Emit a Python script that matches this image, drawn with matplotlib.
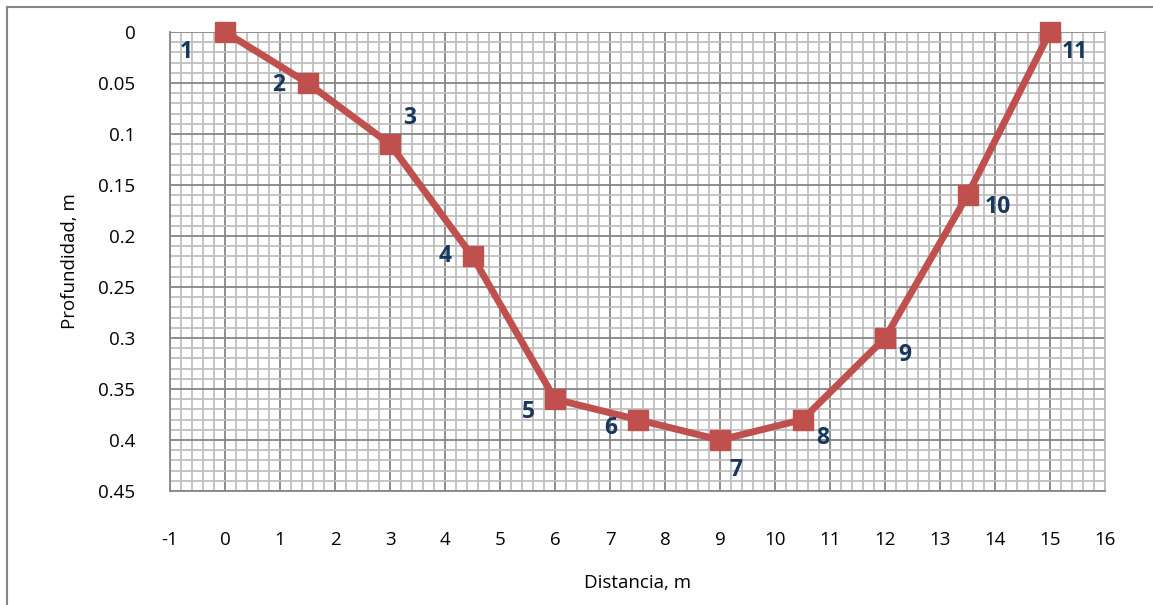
import matplotlib.pyplot as plt
from matplotlib.ticker import MultipleLocator
from matplotlib.lines import Line2D

distancia = [0, 1.5, 3, 4.5, 6, 7.5, 9, 10.5, 12, 13.5, 15]
profundidad = [0, 0.05, 0.11, 0.22, 0.36, 0.38, 0.40, 0.38, 0.30, 0.16, 0]
etiquetas = ['1', '2', '3', '4', '5', '6', '7', '8', '9', '10', '11']
# label offsets in pixels (dx, dy)
offsets = [(-39, -20), (-29, -2), (20, 26), (-27, 0), (-27, -13), (-27, -8),
           (16, -30), (20, -18), (20, -17), (30, -12), (25, -20)]

plt.rcParams['font.family'] = ['Open Sans', 'DejaVu Sans']
plt.rcParams['axes.unicode_minus'] = False

fig = plt.figure(figsize=(11.53, 6.05), dpi=100)
ax = fig.add_axes([170 / 1153, 1 - 491 / 605, 935 / 1153, 459 / 605])

ax.set_xlim(-1, 16)
ax.set_ylim(0.45, 0)
ax.xaxis.set_major_locator(MultipleLocator(1))
ax.xaxis.set_minor_locator(MultipleLocator(0.2))
ax.yaxis.set_major_locator(MultipleLocator(0.05))
ax.yaxis.set_minor_locator(MultipleLocator(0.01))

ax.grid(which='minor', color='#bfbfbf', linewidth=1.3)
ax.grid(which='major', color='#868686', linewidth=1.3)
ax.set_axisbelow(True)
for s in ax.spines.values():
    s.set_color('#868686')
    s.set_linewidth(1.3)
ax.spines['top'].set_visible(False)
ax.spines['right'].set_color('#bfbfbf')

ax.tick_params(which='both', length=0)
ax.tick_params(axis='x', pad=29, labelsize=13.5)
ax.tick_params(axis='y', pad=25, labelsize=13.5)

ax.set_yticks([0, 0.05, 0.1, 0.15, 0.2, 0.25, 0.3, 0.35, 0.4, 0.45])
ax.set_yticklabels(['0', '0.05', '0.1', '0.15', '0.2', '0.25', '0.3', '0.35', '0.4', '0.45'])

ax.plot(distancia, profundidad, color='#c0504d', linewidth=5, marker='s',
        markersize=15, markerfacecolor='#c0504d', markeredgecolor='#c0504d',
        clip_on=False, zorder=5)

for x, y, t, (dx, dy) in zip(distancia, profundidad, etiquetas, offsets):
    ax.annotate(t, (x, y), xytext=(dx, dy), textcoords='offset pixels',
                ha='center', va='center', fontsize=16.5, fontweight='bold',
                color='#17375e', zorder=6)

ax.set_xlabel('Distancia, m', fontsize=13.5, labelpad=18)
ax.set_ylabel('Profundidad, m', fontsize=13.5, labelpad=14)

# outer chart border (top and left visible)
fig.add_artist(Line2D([7 / 1153, 1], [1 - 7 / 605, 1 - 7 / 605], color='#868686', linewidth=1.5))
fig.add_artist(Line2D([7 / 1153, 7 / 1153], [0, 1 - 7 / 605], color='#868686', linewidth=1.5))

fig.savefig('out.png', dpi=100)
